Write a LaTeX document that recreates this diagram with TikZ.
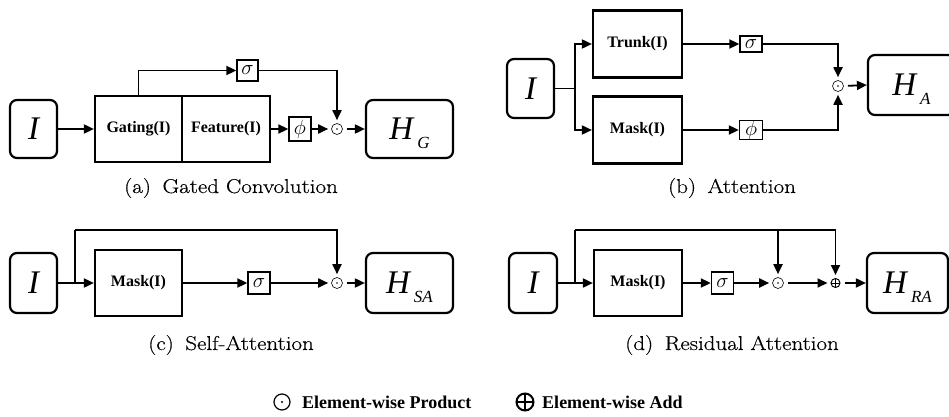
\documentclass[tikz,border=0pt]{standalone}
\usepackage{fontspec}
\usetikzlibrary{arrows.meta}
\newfontfamily\tms{Liberation Serif}
\newfontfamily\capf{Latin Modern Roman}[FakeBold=0.4]
\newcommand\Hsub[1]{H\hspace{4pt}\raisebox{-9pt}[0pt][0pt]{\fontsize{17}{18}\selectfont #1}}
\begin{document}
\begin{tikzpicture}[x=1pt,y=-1pt,
  line width=1.8pt,
  arr/.style={-{Triangle[length=10pt,width=9pt]}},
  blk/.style={draw,line width=2.2pt,inner sep=0pt,font=\tms\bfseries\fontsize{16}{18}\selectfont},
  rbox/.style={draw,line width=2.2pt,rounded corners=7pt,inner sep=0pt,font=\tms\itshape\fontsize{33}{36}\selectfont},
  gbox/.style={draw,line width=1.3pt,inner sep=0pt,font=\huge},
  odn/.style={circle,draw,line width=0.6pt,minimum size=11pt,inner sep=0pt,
    path picture={\fill (path picture bounding box.center) circle (0.9pt);}},
  opn/.style={circle,draw,line width=1pt,minimum size=9pt,inner sep=0pt,
    path picture={\draw[line width=1pt] (path picture bounding box.north) -- (path picture bounding box.south)
      (path picture bounding box.west) -- (path picture bounding box.east);}},
  capt/.style={font=\capf\fontsize{20}{22}\selectfont},
  leg/.style={font=\tms\bfseries\fontsize{18}{20}\selectfont,anchor=west},
  sh/.style={shorten >=3pt},
  sl/.style={shorten <=4pt}
]
\useasboundingbox (0,0) rectangle (949,417);

% ---------- (a) Gated Convolution
\node[rbox,minimum width=47pt,minimum height=58pt] (Ia) at (33.5,129) {I};
\node[blk,minimum width=87pt,minimum height=66pt] (Ga) at (138.5,129) {Gating(I)};
\node[blk,minimum width=88pt,minimum height=66pt] (Fa) at (226,129) {Feature(I)};
\node[gbox,minimum width=21pt,minimum height=21pt] (sa) at (247.5,70.5) {$\sigma$};
\node[gbox,minimum width=22pt,minimum height=24pt] (pa) at (300,129) {$\phi$};
\node[odn] (oa) at (337,129) {};
\node[rbox,minimum width=87pt,minimum height=58pt] (Ha) at (409.5,129) {\Hsub{G}};
\draw[arr] (Ia.east) -- (Ga.west);
\draw[arr] (Ga.north) |- (sa.west);
\draw[arr,sh] (sa.east) -| (oa.north);
\draw[arr] (Fa.east) -- (pa.west);
\draw[arr,sh] (pa.east) -- (oa.west);
\draw[arr,sl] (oa.east) -- (Ha.west);
\node[capt] (ca) at (231,188) {\scalebox{1.15}[1]{(a)\enspace Gated Convolution}};

% ---------- (b) Attention
\node[rbox,minimum width=47pt,minimum height=59pt] (Ib) at (530.5,88.5) {I};
\node[blk,minimum width=89pt,minimum height=67pt] (Tb) at (637.5,44) {Trunk(I)};
\node[blk,minimum width=89pt,minimum height=67pt] (Mb) at (637.5,130) {Mask(I)};
\node[gbox,minimum width=22pt,minimum height=16pt] (sb) at (751,44) {$\sigma$};
\node[gbox,minimum width=23pt,minimum height=17pt] (pb) at (751,130) {$\phi$};
\node[odn] (ob) at (838,86) {};
\node[rbox,minimum width=87pt,minimum height=60pt] (Hb) at (911.5,85) {\Hsub{A}};
\coordinate (jb) at (575,88.5);
\draw (Ib.east) -- (jb);
\draw[arr] (jb) |- (Tb.west);
\draw[arr] (jb) |- (Mb.west);
\draw[arr] (Tb.east) -- (sb.west);
\draw[arr] (Mb.east) -- (pb.west);
\draw[arr,sh] (sb.east) -| (ob.north);
\draw[arr,sh] (pb.east) -| (ob.south);
\draw[arr,sl] (ob.east) -- (Hb.west);
\node[capt] (cb) at (732,188) {\scalebox{1.15}[1]{(b)\enspace Attention}};

% ---------- (c) Self-Attention
\node[rbox,minimum width=47pt,minimum height=60pt] (Ic) at (33.5,283) {I};
\node[blk,minimum width=87pt,minimum height=66pt] (Mc) at (138.5,283) {Mask(I)};
\node[gbox,minimum width=22pt,minimum height=22pt] (sc) at (259,283) {$\sigma$};
\node[odn] (oc) at (337,283) {};
\node[rbox,minimum width=87pt,minimum height=60pt] (Hc) at (409.5,283) {\Hsub{SA}};
\coordinate (jc) at (75,283);
\coordinate (tc) at (75,230);
\draw[arr] (Ic.east) -- (Mc.west);
\draw (jc) -- (tc);
\draw[arr,sh] (tc) -| (oc.north);
\draw[arr] (Mc.east) -- (sc.west);
\draw[arr,sh] (sc.east) -- (oc.west);
\draw[arr,sl] (oc.east) -- (Hc.west);
\node[capt] (cc) at (231,345) {\scalebox{1.15}[1]{(c)\enspace Self-Attention}};

% ---------- (d) Residual Attention
\node[rbox,minimum width=48pt,minimum height=60pt] (Id) at (533,283) {I};
\node[blk,minimum width=88pt,minimum height=66pt] (Md) at (638,283) {Mask(I)};
\node[gbox,minimum width=22pt,minimum height=22pt] (sd) at (722.5,283) {$\sigma$};
\node[odn] (od) at (778,283) {};
\node[opn] (pd) at (835.5,283) {};
\node[rbox,minimum width=81pt,minimum height=60pt] (Hd) at (907.5,283) {\Hsub{RA}};
\coordinate (jd) at (575,283);
\coordinate (td) at (575,230);
\draw[arr] (Id.east) -- (Md.west);
\draw (jd) -- (td);
\draw[arr,sh] (td) -| (pd.north);
\draw[arr,sh] (td -| od) -- (od.north);
\draw[arr] (Md.east) -- (sd.west);
\draw[arr,sh] (sd.east) -- (od.west);
\draw[arr,sh,sl] (od.east) -- (pd.west);
\draw[arr,sl] (pd.east) -- (Hd.west);
\node[capt] (cd) at (732,345) {\scalebox{1.15}[1]{(d)\enspace Residual Attention}};

% ---------- legend
\node[circle,draw,line width=1.2pt,minimum size=16pt,inner sep=0pt,
  path picture={\fill (path picture bounding box.center) circle (1.2pt);}] (lo) at (282,402) {};
\node[leg] (lot) at (298,402) {Element-wise Product};
\node[circle,draw,line width=2pt,minimum size=17pt,inner sep=0pt,
  path picture={\draw[line width=2pt] (path picture bounding box.north) -- (path picture bounding box.south)
    (path picture bounding box.west) -- (path picture bounding box.east);}] (lp) at (525,402) {};
\node[leg] (lpt) at (538,402) {Element-wise Add};
\end{tikzpicture}
\end{document}
